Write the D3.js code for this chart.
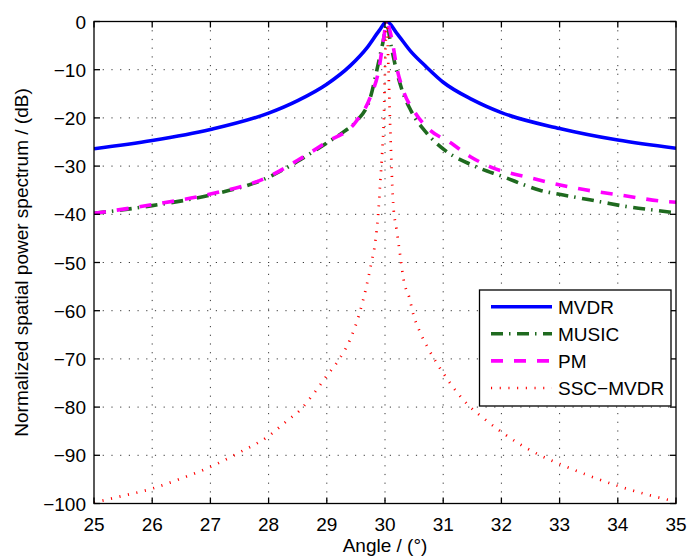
<!DOCTYPE html>
<html>
<head>
<meta charset="utf-8">
<script src="https://cdn.jsdelivr.net/npm/d3@7"></script>
<style>
  html, body { margin: 0; padding: 0; background: #fff; }
  svg { display: block; font-family: "Liberation Sans", Arial, Helvetica, sans-serif; }
</style>
</head>
<body>
<svg id="chart" width="689" height="559"></svg>
<script>
// Spatial power spectrum of four DOA estimators around a source at 30°

const xTicks = [25, 26, 27, 28, 29, 30, 31, 32, 33, 34, 35];
const yTicks = [0, -10, -20, -30, -40, -50, -60, -70, -80, -90, -100];

const seriesNames = ["MVDR", "MUSIC", "PM", "SSC\u2212MVDR"];

const mvdrAngle = [25, 26, 27, 28, 28.5, 29, 29.4, 29.7, 29.9, 30.03, 30.2, 30.45, 30.7, 31, 31.5, 32, 33, 34, 35];
const mvdrDb    = [-26.4, -24.7, -22.4, -19.0, -16.4, -13.0, -9.2, -5.3, -1.9, 0, -2.4, -6.3, -9.3, -12.6, -16.2, -18.9, -22.2, -24.6, -26.3];

const musicAngle = [25, 26, 27, 28, 28.5, 29, 29.3, 29.5, 29.75, 29.88, 29.97, 30.03, 30.1, 30.2, 30.3, 30.45, 30.72, 31.06, 31.5, 32.03, 32.66, 33.2, 33.7, 34.15, 34.67, 35];
const musicDb    = [-39.8, -38.2, -36.0, -32.3, -29.0, -25.2, -22.8, -20.8, -15.7, -9.0, -4.0, -0.5, -4.8, -10.3, -14.5, -18.6, -23.2, -27.0, -29.8, -32.2, -35.0, -36.3, -37.4, -38.4, -39.2, -39.7];

const pmAngle = [25, 26, 27, 28, 28.5, 29, 29.5, 29.75, 29.9, 29.97, 30.03, 30.12, 30.2, 30.31, 30.52, 30.77, 31.12, 31.46, 31.8, 32.52, 33.29, 34.09, 34.87, 35];
const pmDb    = [-39.8, -38.0, -35.8, -32.2, -28.8, -25.0, -20.8, -15.6, -9.6, -4.0, -0.3, -3.8, -9.4, -14.2, -19.0, -22.5, -25.1, -28.0, -30.1, -32.5, -34.6, -36.1, -37.4, -37.5];

const sscAngle = [25, 25.5, 26, 26.5, 27, 27.5, 28, 28.3, 28.55, 28.8, 29, 29.2, 29.4, 29.57, 29.68, 29.77, 29.83, 29.89, 29.92, 29.95, 29.98, 30.0, 30.03, 30.06, 30.09, 30.11, 30.14, 30.2, 30.26, 30.32, 30.42, 30.49, 30.6, 30.74, 30.89, 31.06, 31.23, 31.43, 31.66, 32.03, 32.29, 32.55, 33.04, 33.52, 34.04, 34.52, 35];
const sscDb    = [-99.8, -98.4, -96.9, -94.8, -92.4, -89.4, -86.0, -83.0, -80.5, -76.8, -73.5, -70.3, -66.0, -60.2, -55.0, -49.8, -46.0, -38.8, -33.0, -27.5, -20.0, -10.0, 0, -10.0, -22.0, -29.4, -37.7, -43.3, -48.4, -53.6, -57.4, -60.9, -64.4, -67.8, -70.9, -74.0, -76.8, -79.6, -82.0, -85.4, -87.5, -89.3, -92.0, -94.3, -96.5, -98.2, -99.6];

const svg = d3.select("#chart");
const plot = { left: 94, right: 676, top: 21.5, bottom: 503.5 };

const x = d3.scaleLinear().domain([25, 35]).range([plot.left, plot.right]);
const y = d3.scaleLinear().domain([-100, 0]).range([plot.bottom, plot.top]);

// grid
const grid = svg.append("g").attr("stroke", "#222").attr("stroke-width", 0.9).attr("stroke-dasharray", "1.2,7.5");
grid.selectAll("line.v").data(xTicks.slice(1, -1)).join("line")
  .attr("x1", d => x(d)).attr("x2", d => x(d)).attr("y1", plot.top).attr("y2", plot.bottom);
grid.selectAll("line.h").data(yTicks.slice(1, -1)).join("line")
  .attr("y1", d => y(d)).attr("y2", d => y(d)).attr("x1", plot.left).attr("x2", plot.right);

// curves
svg.append("clipPath").attr("id", "clip").append("rect")
  .attr("x", plot.left).attr("y", plot.top).attr("width", plot.right - plot.left).attr("height", plot.bottom - plot.top);

const line = d3.line().x(d => x(d[0])).y(d => y(d[1])).curve(d3.curveMonotoneX);
const zip = (a, b) => a.map((v, i) => [v, b[i]]);

const styles = [
  { stroke: "#0000ff", width: 3.6, dash: null, opacity: 1 },
  { stroke: "#1f6a1f", width: 3.6, dash: "12,6,1.5,6.5", opacity: 1 },
  { stroke: "#ff00ff", width: 3.6, dash: "12,11", opacity: 1 },
  { stroke: "#ff0000", width: 2.7, dash: "1.1,7.6", opacity: 1 }
];
const seriesData = [zip(mvdrAngle, mvdrDb), zip(musicAngle, musicDb), zip(pmAngle, pmDb), zip(sscAngle, sscDb)];

const curves = svg.append("g").attr("clip-path", "url(#clip)").attr("fill", "none");
seriesData.forEach((pts, i) => {
  const s = styles[i];
  curves.append("path").attr("d", line(pts))
    .attr("stroke", s.stroke).attr("stroke-width", s.width)
    .attr("stroke-dasharray", s.dash).attr("stroke-opacity", s.opacity);
});

// frame with inward ticks on all sides
const frame = svg.append("g").attr("stroke", "#000").attr("stroke-width", 1.3).attr("fill", "none");
frame.append("rect").attr("x", plot.left).attr("y", plot.top)
  .attr("width", plot.right - plot.left).attr("height", plot.bottom - plot.top);
const tl = 6;
xTicks.forEach(t => {
  frame.append("line").attr("x1", x(t)).attr("x2", x(t)).attr("y1", plot.bottom).attr("y2", plot.bottom - tl);
  frame.append("line").attr("x1", x(t)).attr("x2", x(t)).attr("y1", plot.top).attr("y2", plot.top + tl);
});
yTicks.forEach(t => {
  frame.append("line").attr("y1", y(t)).attr("y2", y(t)).attr("x1", plot.left).attr("x2", plot.left + tl);
  frame.append("line").attr("y1", y(t)).attr("y2", y(t)).attr("x1", plot.right).attr("x2", plot.right - tl);
});

// tick labels
const fmt = v => (v < 0 ? "\u2212" + Math.abs(v) : String(v));
svg.append("g").selectAll("text").data(xTicks).join("text")
  .attr("x", d => x(d)).attr("y", plot.bottom + 27)
  .attr("text-anchor", "middle").attr("font-size", 19).attr("fill", "#000").text(fmt);
svg.append("g").selectAll("text").data(yTicks).join("text")
  .attr("x", plot.left - 8).attr("y", d => y(d) + 7)
  .attr("text-anchor", "end").attr("font-size", 19).attr("fill", "#000").text(fmt);

// axis titles
svg.append("text").attr("x", (plot.left + plot.right) / 2).attr("y", 552)
  .attr("text-anchor", "middle").attr("font-size", 19).attr("fill", "#000").text("Angle / (\u00b0)");
svg.append("text")
  .attr("transform", `translate(28,${(plot.top + plot.bottom) / 2}) rotate(-90)`)
  .attr("text-anchor", "middle").attr("font-size", 19).attr("fill", "#000")
  .text("Normalized spatial power spectrum / (dB)");

// legend
const lg = svg.append("g");
lg.append("rect").attr("x", 479.5).attr("y", 290).attr("width", 191.5).attr("height", 116)
  .attr("fill", "#fff").attr("stroke", "#000").attr("stroke-width", 1.3);
seriesNames.forEach((name, i) => {
  const cy = 306.7 + i * 27.1;
  const s = styles[i];
  lg.append("line").attr("x1", 491).attr("x2", 552).attr("y1", cy).attr("y2", cy)
    .attr("stroke", s.stroke).attr("stroke-width", s.width)
    .attr("stroke-dasharray", s.dash).attr("stroke-opacity", s.opacity);
  lg.append("text").attr("x", 558).attr("y", cy + 7).attr("font-size", 19).attr("fill", "#000").text(name);
});
</script>
</body>
</html>
